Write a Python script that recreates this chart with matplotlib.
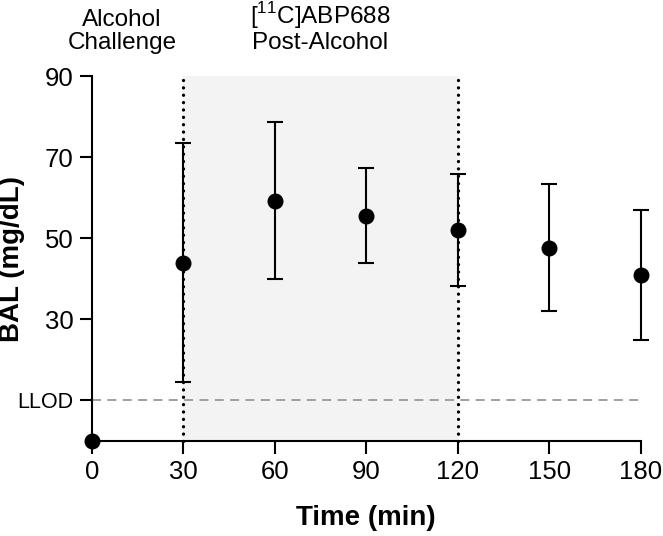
import matplotlib
matplotlib.use('Agg')
import matplotlib.pyplot as plt
import numpy as np

plt.rcParams['font.family'] = ['Liberation Sans', 'DejaVu Sans']

# BAL data (mg/dL)
tiempo = [0, 30, 60, 90, 120, 150, 180]
bal_media = [0.0, 44.0, 59.2, 55.6, 52.0, 47.6, 40.9]
bal_inf = [0.0, 14.5, 39.9, 43.9, 38.1, 32.0, 24.8]
bal_sup = [0.0, 73.5, 78.6, 67.4, 65.8, 63.3, 57.0]

x_ticks = [0, 30, 60, 90, 120, 150, 180]
y_ticks = [10, 30, 50, 70, 90]
y_labels = ['LLOD', '30', '50', '70', '90']
llod = 10
ventana = (30, 120)

fig = plt.figure(figsize=(6.63, 5.36), dpi=100)
ax = fig.add_axes([0.1383, 0.1772, 0.8281, 0.681])

ax.set_xlim(0, 180)
ax.set_ylim(0, 90)

# shaded PET window
ax.fill_between(ventana, 0, 90, color='#f3f3f3', zorder=0, linewidth=0)

# dotted window borders
for xv in ventana:
    ax.plot([xv, xv], [0, 90], color='black', linewidth=2.4,
            linestyle=(0, (0.01, 2.2)), dash_capstyle='round', zorder=2, clip_on=False)

# LLOD line
ax.plot([0, 180], [llod, llod], color='#999999', linewidth=1.3,
        linestyle=(0, (5, 3.5)), zorder=1)

media = np.array(bal_media)
yerr = np.vstack([media - np.array(bal_inf), np.array(bal_sup) - media])
ax.errorbar(tiempo[1:], media[1:], yerr=yerr[:, 1:], fmt='o', color='black',
            markersize=10.5, elinewidth=1.5, capsize=5.5, capthick=1.5, zorder=3, clip_on=False)
ax.plot(tiempo[:1], bal_media[:1], 'o', color='black', markersize=10.5, zorder=4, clip_on=False)

for s in ['top', 'right']:
    ax.spines[s].set_visible(False)
for s in ['left', 'bottom']:
    ax.spines[s].set_linewidth(1.5)

ax.set_xticks(x_ticks)
ax.set_yticks(y_ticks)
ax.set_yticklabels(y_labels)
ax.tick_params(axis='both', labelsize=18.5, width=1.5, length=9)
ax.tick_params(axis='x', pad=5)
ax.tick_params(axis='y', pad=4)
ax.get_yticklabels()[0].set_fontsize(15.5)

ax.set_xlabel('Time (min)', fontsize=20, fontweight='bold', labelpad=15)
ax.set_ylabel('BAL (mg/dL)', fontsize=20, fontweight='bold')
ax.yaxis.set_label_coords(-0.122, 0.5)

trans = ax.get_xaxis_transform()
ax.text(10, 1.06, 'Alcohol\nChallenge', transform=trans, ha='center', va='bottom',
        fontsize=17.5, linespacing=1.08, clip_on=False)
ax.text(75, 1.06, '[$^{\\mathregular{11}}$C]ABP688\nPost-Alcohol', transform=trans,
        ha='center', va='bottom', fontsize=17.5, linespacing=1.08, clip_on=False)

fig.savefig('out.png', dpi=100)
